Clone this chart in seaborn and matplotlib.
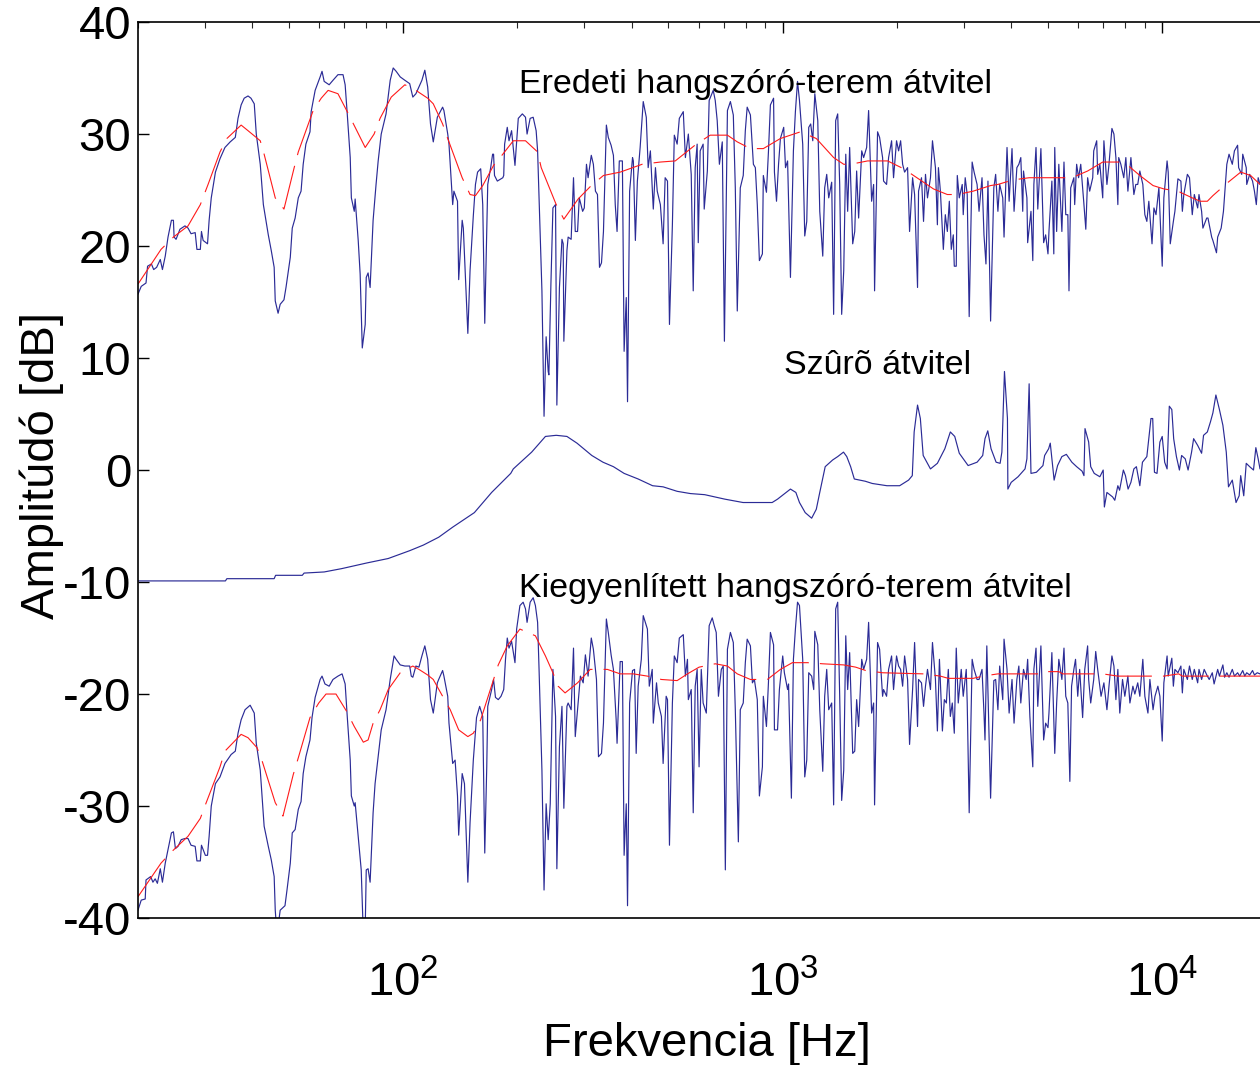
import matplotlib
matplotlib.use("Agg")
import matplotlib.pyplot as plt
import seaborn as sns
from matplotlib.ticker import LogLocator, NullFormatter, FixedLocator, FixedFormatter

# original loudspeaker-room response (blue)
upper_freq = [20.0, 20.4, 21.0, 21.2, 21.7, 22.0, 22.4, 22.9, 23.2, 23.6, 24.0, 24.5, 24.8, 24.9, 25.2, 25.8,
              26.6, 27.1, 27.6, 28.3, 28.6, 29.2, 29.4, 29.7, 30.5, 30.8, 31.2, 32.0, 32.9, 33.9, 35.0, 36.1,
              36.7, 37.4, 38.1, 39.0, 39.7, 40.5, 41.0, 42.0, 42.8, 44.1, 44.9, 45.7, 46.0, 46.8, 47.4, 48.5,
              49.1, 50.4, 51.0, 51.9, 52.9, 53.8, 54.5, 55.4, 56.8, 57.2, 58.6, 60.4, 61.1, 61.9, 63.8, 65.3,
              67.3, 69.4, 70.3, 71.2, 72.5, 73.0, 74.3, 74.7, 76.1, 77.0, 78.0, 79.4, 79.9, 80.8, 81.8, 83.3,
              84.8, 85.9, 87.5, 90.1, 92.4, 94.1, 95.8, 98.2, 101, 104, 106, 108, 110, 112, 114, 116,
              118, 120, 123, 127, 128, 131, 132, 135, 136, 139, 140, 143, 144, 148, 150, 153,
              155, 157, 160, 162, 164, 166, 167, 170, 172, 173, 174, 177, 183, 184, 185, 188,
              190, 193, 197, 201, 206, 210, 212, 216, 220, 224, 226, 228, 232, 235, 238, 241,
              242, 245, 248, 252, 254, 258, 262, 264, 265, 270, 272, 277, 281, 284, 288, 291,
              297, 300, 304, 307, 313, 317, 321, 325, 329, 333, 337, 343, 347, 353, 358, 362,
              366, 371, 378, 382, 387, 390, 395, 402, 404, 409, 414, 421, 429, 437, 442, 448,
              456, 462, 467, 476, 484, 490, 497, 503, 512, 518, 527, 534, 547, 554, 564, 574,
              581, 588, 595, 599, 606, 617, 621, 633, 640, 656, 664, 672, 681, 693, 702, 715,
              728, 741, 750, 759, 773, 787, 797, 806, 822, 837, 847, 857, 868, 884, 889, 906,
              917, 928, 946, 951, 963, 975, 986, 1006, 1017, 1030, 1048, 1067, 1080, 1094, 1107, 1129,
              1143, 1157, 1171, 1185, 1200, 1215, 1237, 1252, 1275, 1290, 1306, 1322, 1346, 1362, 1379, 1396,
              1413, 1430, 1448, 1466, 1483, 1501, 1529, 1548, 1566, 1585, 1615, 1634, 1664, 1684, 1715, 1736,
              1746, 1778, 1800, 1833, 1844, 1878, 1901, 1936, 1959, 1995, 2020, 2045, 2070, 2095, 2133, 2159,
              2199, 2226, 2266, 2280, 2321, 2350, 2378, 2407, 2451, 2481, 2526, 2556, 2572, 2603, 2650, 2682,
              2715, 2748, 2781, 2815, 2832, 2866, 2884, 2919, 2972, 2990, 3026, 3063, 3100, 3156, 3194, 3252,
              3291, 3351, 3391, 3432, 3474, 3530, 3600, 3640, 3690, 3730, 3800, 3830, 3900, 3950, 4020, 4070,
              4140, 4190, 4240, 4290, 4310, 4400, 4420, 4510, 4560, 4590, 4650, 4700, 4790, 4870, 4930, 5000,
              5030, 5120, 5180, 5210, 5270, 5340, 5440, 5510, 5570, 5640, 5680, 5740, 5850, 5880, 5950, 6020,
              6100, 6210, 6290, 6360, 6440, 6560, 6600, 6720, 6760, 6850, 6970, 7020, 7150, 7240, 7370, 7460,
              7550, 7640, 7680, 7780, 7920, 8020, 8120, 8270, 8420, 8520, 8620, 8730, 8890, 9000, 9110, 9220,
              9400, 9510, 9630, 9800, 10000, 10100, 10300, 10370, 10500, 10700, 10800, 11000, 11200, 11300, 11400, 11650,
              11800, 12000, 12150, 12400, 12500, 12700, 12800, 13100, 13200, 13500, 13600, 13900, 14000, 14300, 14500, 14600,
              14800, 15000, 15300, 15500, 15800, 15900, 16200, 16300, 16650, 16700, 17000, 17300, 17500, 17700, 17900, 18100]
upper_db = [15.7, 16.4, 16.7, 18.2, 18.4, 17.9, 18.1, 18.8, 17.9, 19.1, 20.8, 22.3, 22.3, 20.8, 20.6, 21.5,
            21.8, 21.6, 21.1, 21.2, 19.7, 19.7, 21.3, 20.5, 20.2, 22.3, 24.3, 26.6, 27.8, 28.8, 29.3, 29.7,
            31.4, 32.6, 33.2, 33.4, 33.2, 32.7, 30.0, 27.3, 23.7, 21.0, 19.6, 18.1, 15.1, 14.0, 14.8, 15.2,
            16.3, 19.0, 21.6, 22.5, 24.3, 24.9, 27.3, 29.1, 30.2, 32.0, 33.9, 35.1, 35.6, 34.7, 34.4, 34.8,
            35.3, 35.3, 34.4, 31.8, 27.9, 24.3, 23.1, 24.2, 20.5, 17.5, 10.9, 13.0, 17.2, 17.6, 16.3, 22.3,
            25.5, 27.6, 30.0, 31.8, 34.8, 35.9, 35.6, 35.1, 34.8, 34.5, 33.3, 33.6, 34.2, 34.8, 35.7, 34.2,
            30.9, 29.3, 31.5, 32.4, 32.1, 30.0, 29.1, 23.7, 24.9, 24.0, 17.0, 22.3, 21.6, 12.2, 17.8, 22.7,
            25.5, 26.6, 26.9, 23.7, 13.1, 21.4, 25.5, 27.0, 28.2, 28.2, 26.3, 25.8, 26.1, 26.3, 29.1, 30.6,
            29.4, 30.3, 27.2, 31.4, 31.8, 31.5, 30.0, 31.4, 31.5, 30.3, 28.5, 24.3, 16.0, 4.8, 11.9, 8.8,
            8.5, 16.6, 23.4, 23.7, 5.8, 16.3, 20.6, 20.2, 11.5, 19.6, 20.8, 20.6, 26.1, 21.3, 21.3, 24.3,
            23.1, 23.4, 27.3, 26.1, 28.1, 27.3, 24.9, 24.6, 18.1, 18.5, 21.3, 30.8, 29.7, 29.0, 28.1, 23.7,
            21.3, 27.6, 27.6, 10.6, 15.4, 6.1, 24.9, 27.9, 27.6, 20.5, 25.8, 28.8, 32.9, 31.5, 27.0, 28.5,
            23.3, 27.0, 24.9, 23.7, 20.2, 26.1, 25.8, 13.0, 21.9, 29.9, 29.1, 31.4, 32.0, 27.9, 30.0, 26.4,
            16.0, 27.0, 29.1, 20.3, 28.5, 29.1, 23.3, 26.7, 33.0, 33.9, 33.0, 31.2, 27.3, 29.3, 11.5, 32.1,
            32.9, 31.7, 25.2, 14.2, 25.2, 26.3, 30.3, 32.4, 31.7, 27.3, 27.0, 23.7, 18.7, 19.3, 26.3, 24.8,
            28.4, 32.6, 33.2, 26.6, 24.0, 27.3, 29.6, 30.6, 27.0, 27.6, 17.2, 28.5, 32.0, 34.7, 33.0, 29.1,
            20.9, 22.2, 30.6, 30.9, 29.4, 33.6, 31.2, 23.1, 19.1, 25.2, 26.4, 24.3, 25.7, 13.9, 31.2, 31.8,
            25.5, 13.9, 17.8, 28.2, 23.1, 28.8, 20.2, 21.3, 26.7, 22.5, 28.5, 27.9, 28.8, 32.1, 24.0, 25.5,
            16.0, 30.2, 29.7, 27.9, 25.8, 25.5, 27.9, 29.4, 26.1, 29.4, 28.5, 29.4, 27.3, 26.6, 27.0, 21.3,
            26.1, 24.6, 16.3, 24.9, 26.1, 22.2, 26.4, 24.3, 26.1, 29.4, 27.0, 21.9, 27.0, 24.9, 19.7, 22.8,
            21.3, 24.0, 19.7, 21.0, 18.2, 18.2, 26.3, 24.3, 25.5, 22.8, 26.1, 24.6, 13.7, 27.5, 26.6, 25.5,
            23.1, 26.1, 21.0, 18.4, 25.8, 13.3, 25.2, 26.4, 23.1, 25.5, 24.3, 20.8, 28.8, 24.0, 28.7, 23.1,
            27.0, 27.3, 27.9, 23.1, 26.7, 24.3, 20.3, 23.1, 18.7, 25.5, 28.8, 23.3, 28.7, 20.3, 21.0, 19.3,
            21.3, 25.8, 19.3, 28.8, 21.3, 27.3, 21.3, 27.5, 22.8, 22.8, 16.0, 25.2, 26.1, 23.7, 27.3, 26.1,
            27.3, 24.0, 21.5, 26.1, 24.9, 26.1, 28.5, 29.4, 26.4, 27.3, 24.3, 29.4, 25.5, 27.3, 30.5, 30.0,
            27.9, 23.7, 27.9, 27.3, 26.1, 27.9, 24.9, 27.9, 24.6, 25.5, 25.5, 26.7, 25.5, 22.8, 22.2, 24.0,
            20.2, 23.4, 22.8, 25.2, 18.2, 24.3, 27.6, 26.6, 20.2, 22.2, 23.1, 26.0, 25.8, 23.1, 24.6, 26.4,
            26.1, 22.8, 24.6, 23.4, 24.6, 23.1, 21.6, 22.5, 22.5, 20.8, 20.5, 19.4, 20.8, 21.6, 23.1, 24.5,
            27.3, 28.2, 27.3, 28.5, 29.0, 27.0, 26.4, 28.2, 27.0, 25.5, 26.4, 25.8, 24.9, 23.7, 26.1, 25.5]

# smoothed original response (red dashed)
upper_smooth_freq = [20.0, 23.0, 24.8, 27.1, 29.2, 30.6, 32.9, 34.3, 37.4, 39.0, 42.0, 43.0, 46.0, 48.5, 51.6, 52.9,
                     57.9, 60.8, 63.4, 67.3, 71.2, 74.7, 79.4, 83.8, 86.9, 93.0, 101, 108, 116, 120, 127, 131,
                     143, 150, 155, 162, 173, 183, 195, 210, 226, 231, 253, 265, 289, 313, 337, 373,
                     426, 476, 521, 592, 644, 715, 759, 822, 889, 986, 1114, 1226, 1362, 1448, 1510, 1674,
                     1890, 2082, 2280, 2496, 2715, 2884, 3175, 3530, 3690, 4040, 4460, 5780, 6360, 6970, 7680, 8120,
                     8730, 9460, 10100, 11000, 12000, 12600, 13150, 13600, 14800, 16100, 17100, 18100]
upper_smooth_db = [16.6, 19.7, 20.8, 21.8, 23.7, 25.5, 28.4, 29.6, 30.8, 30.3, 29.4, 28.2, 24.3, 23.3, 27.0, 28.4,
                   32.1, 33.2, 33.9, 33.6, 32.0, 30.6, 28.8, 30.0, 31.4, 33.3, 34.4, 33.9, 33.2, 32.7, 30.9, 29.6,
                   26.1, 24.6, 24.5, 25.4, 27.2, 28.2, 29.4, 29.4, 28.4, 27.0, 23.7, 22.4, 24.2, 25.4, 26.3, 26.6,
                   27.3, 27.5, 27.6, 29.1, 29.9, 29.9, 29.3, 28.7, 28.7, 29.6, 30.2, 29.6, 27.9, 27.3, 27.3, 27.6,
                   27.6, 26.9, 26.0, 25.1, 24.6, 24.6, 24.9, 25.4, 25.5, 25.9, 26.1, 26.1, 26.7, 27.5, 27.5, 27.2,
                   26.3, 25.4, 25.1, 24.9, 24.3, 24.0, 24.0, 24.5, 25.6, 26.6, 26.3, 25.5]

# equalising filter response
filter_freq = [20.0, 34.0, 34.3, 45.7, 46.1, 54.2, 54.8, 61.9, 68.9, 80.1, 91.3, 104, 113, 124, 135, 154,
               171, 192, 195, 218, 237, 253, 270, 287, 314, 336, 358, 382, 416, 454, 484, 527,
               571, 623, 704, 786, 938, 969, 1048, 1083, 1107, 1146, 1192, 1226, 1252, 1294, 1354, 1396,
               1446, 1475, 1510, 1544, 1650, 1722, 1882, 2033, 2146, 2195, 2220, 2266, 2305, 2345, 2451, 2556,
               2674, 2765, 2840, 2919, 3080, 3252, 3365, 3412, 3470, 3540, 3650, 3740, 3780, 3840, 3910, 3920,
               4000, 4170, 4350, 4400, 4460, 4510, 4660, 4850, 4900, 5020, 5070, 5190, 5300, 5440, 5590, 5780,
               5950, 6150, 6220, 6260, 6400, 6480, 6620, 6850, 6990, 7040, 7150, 7400, 7500, 7640, 7720, 7900,
               8000, 8130, 8270, 8420, 8550, 8730, 8870, 9110, 9340, 9440, 9540, 9690, 9860, 10000, 10150, 10300,
               10440, 10600, 10720, 10900, 11100, 11250, 11500, 11700, 11950, 12100, 12400, 12700, 12850, 13150, 13400, 13600,
               13850, 14150, 14450, 14750, 14950, 15300, 15650, 15950, 16100, 16400, 16650, 17000, 17400, 17650, 17900, 18100]
filter_db = [-9.9, -9.9, -9.7, -9.7, -9.4, -9.4, -9.2, -9.1, -8.8, -8.3, -7.9, -7.2, -6.7, -6.0, -5.1, -3.8,
             -2.0, -0.3, 0.1, 1.6, 3.0, 3.1, 3.0, 2.4, 1.3, 0.7, 0.3, -0.3, -0.8, -1.4, -1.5, -1.9,
             -2.1, -2.2, -2.6, -2.9, -2.9, -2.6, -1.7, -2.0, -2.9, -3.8, -4.3, -3.5, -2.0, 0.3, 0.9, 1.2,
             1.6, 1.2, 0.3, -0.8, -1.0, -1.2, -1.4, -1.4, -0.9, -0.5, 3.4, 5.8, 4.6, 1.3, 0.1, 0.6,
             1.9, 3.4, 3.0, 1.5, 0.4, 0.7, 1.3, 2.8, 3.5, 1.9, 0.7, 0.6, 1.6, 8.8, 4.6, -1.7,
             -1.1, -0.6, 0.1, 1.0, 7.7, -0.3, -0.2, 0.4, 1.3, 1.9, 2.4, -0.9, 0.4, 1.2, 1.4, 0.7,
             0.3, -0.1, -0.5, 3.7, 2.5, 0.3, -0.3, -0.6, 0.0, -3.3, -2.0, -2.4, -2.7, -1.4, -1.8, 0.0,
             -0.5, -1.7, -1.1, 0.1, 0.3, -1.4, 0.7, 1.2, 4.6, 4.6, -0.2, -0.3, 2.5, 3.0, 0.7, 0.1,
             5.7, 5.4, 2.8, 1.2, 0.0, 1.3, 1.0, 0.0, 1.6, 2.8, 2.2, 1.5, 3.1, 3.4, 4.3, 5.1,
             6.7, 5.4, 4.0, 1.6, -1.5, -0.9, -2.9, -2.3, -0.5, -2.3, 0.6, 0.3, 0.0, 2.0, 1.0, 0.1]

# equalised loudspeaker-room response (blue)
lower_freq = [20.0, 20.4, 20.9, 21.0, 21.6, 21.9, 22.2, 22.5, 22.9, 23.2, 23.6, 24.0, 24.5, 24.8, 25.1, 25.5,
              26.0, 26.6, 27.1, 27.6, 28.3, 28.6, 29.2, 29.4, 30.1, 30.5, 30.8, 31.2, 32.0, 32.9, 33.9, 35.2,
              36.1, 36.7, 37.4, 38.3, 39.5, 40.5, 41.0, 42.0, 43.0, 44.1, 44.9, 45.7, 46.0, 46.5, 47.4, 48.8,
              49.4, 50.4, 51.0, 51.9, 52.9, 53.8, 54.5, 55.4, 56.8, 57.5, 58.6, 60.4, 61.1, 62.2, 63.8, 65.3,
              67.3, 69.0, 70.3, 71.2, 72.5, 73.0, 74.3, 74.7, 76.1, 77.5, 78.5, 79.4, 79.9, 80.8, 81.8, 83.3,
              84.3, 85.9, 87.5, 90.1, 92.4, 94.6, 95.8, 98.2, 101, 104, 105, 106, 108, 110, 112, 114,
              116, 118, 120, 123, 124, 127, 128, 131, 132, 135, 137, 139, 140, 143, 145, 148,
              150, 153, 156, 159, 162, 164, 166, 167, 171, 173, 175, 178, 181, 184, 186, 188,
              190, 193, 197, 199, 203, 207, 210, 212, 216, 220, 223, 226, 228, 232, 235, 238,
              241, 244, 248, 252, 254, 258, 262, 265, 270, 272, 277, 281, 284, 288, 293, 298,
              302, 307, 313, 317, 323, 327, 333, 337, 343, 347, 353, 358, 364, 366, 373, 378,
              382, 387, 390, 395, 402, 407, 411, 416, 424, 429, 440, 445, 453, 456, 465, 470,
              479, 484, 493, 497, 503, 512, 518, 527, 534, 547, 554, 561, 564, 574, 581, 588,
              595, 602, 610, 617, 629, 640, 652, 660, 668, 677, 689, 697, 706, 715, 728, 741,
              750, 764, 773, 787, 797, 806, 822, 832, 842, 857, 868, 884, 889, 906, 917, 928,
              946, 951, 969, 980, 1000, 1010, 1030, 1036, 1054, 1067, 1080, 1094, 1107, 1129, 1143, 1157,
              1171, 1192, 1207, 1215, 1237, 1252, 1275, 1290, 1306, 1322, 1346, 1362, 1379, 1396, 1413, 1430,
              1448, 1466, 1483, 1501, 1529, 1548, 1566, 1585, 1615, 1634, 1664, 1684, 1715, 1736, 1746, 1778,
              1800, 1833, 1844, 1878, 1901, 1936, 1959, 1995, 2020, 2045, 2070, 2095, 2133, 2159, 2199, 2226,
              2266, 2280, 2321, 2350, 2378, 2407, 2451, 2481, 2526, 2556, 2588, 2635, 2666, 2699, 2731, 2765,
              2798, 2832, 2866, 2901, 2954, 2990, 3045, 3063, 3100, 3156, 3194, 3252, 3291, 3351, 3391, 3412,
              3450, 3530, 3600, 3640, 3690, 3730, 3800, 3830, 3900, 3950, 4020, 4070, 4140, 4190, 4240, 4310,
              4380, 4420, 4480, 4560, 4590, 4650, 4700, 4790, 4870, 4930, 5000, 5030, 5120, 5180, 5210, 5270,
              5340, 5440, 5510, 5570, 5640, 5710, 5770, 5850, 5910, 5990, 6060, 6170, 6250, 6360, 6400, 6480,
              6600, 6680, 6760, 6900, 7020, 7150, 7240, 7370, 7460, 7550, 7640, 7730, 7860, 7970, 8120, 8220,
              8370, 8470, 8620, 8730, 8890, 9000, 9170, 9280, 9460, 9570, 9740, 9860, 10000, 10100, 10300, 10370,
              10600, 10700, 10800, 11000, 11200, 11300, 11400, 11650, 11800, 12000, 12150, 12400, 12500, 12700, 12900, 13150,
              13300, 13550, 13700, 14000, 14150, 14450, 14600, 14800, 15000, 15300, 15500, 15800, 16000, 16300, 16500, 16700,
              17000, 17300, 17500, 17800, 18100]
lower_db = [-39.3, -38.4, -38.3, -36.6, -36.3, -36.8, -36.5, -36.9, -35.6, -36.8, -35.1, -33.9, -32.4, -32.3, -33.8, -33.6,
            -33.0, -32.9, -32.9, -33.5, -33.6, -34.9, -34.9, -33.5, -34.4, -34.4, -32.7, -30.0, -28.0, -27.4, -26.2, -25.4,
            -25.1, -23.5, -22.3, -21.4, -21.0, -21.7, -24.4, -26.8, -31.8, -33.6, -34.8, -36.3, -39.3, -41.5, -39.3, -38.9,
            -37.5, -35.1, -32.4, -32.1, -30.3, -29.6, -27.1, -25.6, -24.1, -22.1, -20.3, -18.7, -18.4, -19.1, -19.3, -18.7,
            -18.4, -18.2, -19.1, -22.0, -25.9, -29.1, -30.0, -29.7, -32.7, -35.7, -41.5, -41.0, -35.7, -35.6, -36.8, -30.6,
            -28.0, -25.6, -23.2, -21.4, -18.7, -16.6, -16.9, -17.4, -17.5, -17.5, -18.4, -18.5, -17.5, -17.6, -16.6, -15.7,
            -16.9, -20.5, -21.7, -19.0, -18.7, -17.9, -18.4, -20.2, -22.6, -26.2, -25.9, -29.1, -32.6, -27.1, -28.0, -36.8,
            -31.5, -25.9, -22.1, -21.1, -22.0, -34.2, -26.5, -21.1, -19.6, -18.7, -20.3, -20.5, -20.2, -19.6, -16.9, -15.0,
            -15.9, -15.3, -17.2, -14.2, -12.1, -11.8, -12.4, -13.6, -11.8, -11.4, -12.1, -13.6, -17.8, -26.8, -37.5, -29.8,
            -33.0, -29.8, -17.8, -22.0, -35.6, -24.7, -21.1, -30.2, -21.1, -20.8, -21.4, -15.9, -23.8, -21.4, -18.4, -19.0,
            -16.5, -18.4, -15.0, -16.0, -18.7, -25.6, -25.3, -22.6, -13.3, -14.5, -16.5, -17.8, -22.3, -24.4, -17.1, -17.1,
            -34.4, -29.8, -38.9, -20.8, -17.9, -17.8, -25.3, -19.3, -16.9, -13.0, -14.2, -19.3, -17.8, -22.6, -19.0, -20.8,
            -22.0, -26.2, -20.2, -20.5, -33.5, -20.8, -16.6, -17.2, -15.0, -14.7, -18.4, -16.9, -20.5, -19.6, -30.6, -19.3,
            -17.8, -26.5, -17.8, -20.8, -21.7, -13.9, -13.2, -13.9, -14.5, -20.2, -17.8, -17.5, -35.7, -16.0, -14.5, -15.4,
            -21.4, -33.2, -21.4, -20.8, -17.2, -15.1, -15.7, -19.0, -18.7, -20.5, -29.1, -26.5, -20.2, -22.9, -19.0, -14.5,
            -15.6, -23.2, -23.2, -19.6, -16.6, -18.1, -19.6, -19.1, -29.3, -16.9, -14.2, -11.8, -12.1, -16.9, -27.4, -25.9,
            -18.1, -18.4, -19.6, -14.4, -15.6, -21.4, -26.9, -20.2, -17.8, -21.4, -20.8, -29.9, -12.4, -11.8, -20.2, -29.5,
            -26.8, -14.8, -19.6, -16.3, -25.3, -25.1, -20.5, -22.9, -16.9, -17.8, -16.9, -13.6, -21.7, -20.8, -29.9, -15.4,
            -16.0, -20.2, -19.6, -20.2, -17.8, -16.6, -19.6, -16.6, -17.5, -17.8, -19.3, -16.6, -18.7, -24.5, -19.6, -15.4,
            -22.9, -18.7, -19.0, -21.1, -19.3, -17.8, -19.6, -15.4, -18.7, -23.3, -16.9, -23.3, -20.5, -20.8, -17.8, -22.0,
            -20.8, -23.5, -15.9, -20.8, -17.8, -20.2, -17.8, -20.8, -30.6, -16.9, -17.8, -18.7, -18.7, -17.8, -21.7, -24.1,
            -15.7, -29.3, -18.8, -18.7, -21.4, -17.5, -20.5, -15.1, -17.8, -21.7, -18.7, -22.6, -18.7, -17.5, -20.8, -17.8,
            -18.7, -16.9, -22.0, -26.5, -17.8, -15.9, -21.1, -15.7, -24.1, -22.6, -23.0, -21.7, -16.3, -22.3, -25.3, -20.8,
            -16.9, -18.7, -15.9, -20.2, -20.8, -27.8, -19.3, -17.8, -16.9, -20.2, -17.8, -22.1, -17.8, -15.7, -18.7, -20.8,
            -18.7, -16.2, -17.8, -20.2, -19.0, -21.4, -19.3, -16.6, -17.5, -20.5, -17.8, -21.7, -18.7, -20.2, -18.4, -20.8,
            -19.3, -20.0, -19.0, -20.2, -16.9, -20.2, -21.7, -18.7, -21.4, -20.2, -19.3, -20.2, -24.2, -19.0, -16.6, -18.4,
            -16.8, -19.3, -17.8, -18.1, -17.5, -19.9, -17.8, -18.7, -17.5, -18.7, -17.8, -19.0, -17.8, -18.7, -17.8, -18.4,
            -18.7, -18.1, -19.1, -17.8, -18.4, -17.4, -18.5, -18.1, -18.5, -17.8, -18.4, -18.1, -18.4, -17.9, -18.4, -18.1,
            -18.3, -17.9, -18.3, -18.1, -18.2]

# smoothed equalised response (red dashed)
lower_smooth_freq = [20.0, 23.0, 24.5, 27.1, 29.2, 30.1, 32.9, 33.9, 37.4, 39.0, 41.2, 42.5, 46.0, 48.2, 51.3, 52.9,
                     56.8, 59.9, 62.6, 66.5, 70.8, 74.3, 78.5, 80.8, 83.3, 86.9, 91.3, 98.2, 106, 110, 116, 120,
                     127, 133, 140, 148, 153, 160, 173, 178, 188, 203, 223, 237, 248, 256, 267, 288,
                     311, 345, 373, 404, 440, 479, 527, 561, 602, 664, 715, 759, 822, 911, 986, 1060,
                     1164, 1275, 1448, 1557, 1654, 1833, 2350, 2603, 2731, 3175, 3370, 3690, 4790, 4850, 5340, 5470,
                     6970, 7640, 10100, 11050, 11300, 18100]
lower_smooth_db = [-38.1, -35.1, -34.1, -32.7, -31.1, -29.9, -26.5, -25.1, -23.6, -23.9, -24.8, -26.0, -29.7, -30.9, -27.2, -25.7,
                   -22.1, -20.8, -20.0, -20.0, -21.5, -22.9, -24.3, -24.1, -22.6, -21.4, -19.6, -18.1, -17.5, -17.8, -18.3, -18.7,
                   -20.2, -21.4, -23.2, -23.8, -23.5, -22.3, -18.7, -17.4, -15.7, -14.2, -14.8, -16.6, -18.1, -19.3, -19.9, -19.0,
                   -17.8, -17.8, -18.2, -18.2, -18.4, -18.7, -18.8, -18.2, -17.6, -17.3, -17.5, -18.2, -18.7, -18.7, -17.8, -17.2,
                   -17.2, -17.3, -17.4, -17.6, -17.9, -18.1, -18.2, -18.4, -18.6, -18.6, -18.4, -18.2, -18.2, -18.0, -18.0, -18.2,
                   -18.2, -18.4, -18.4, -18.2, -18.4, -18.4]

y_ticks = [40, 30, 20, 10, 0, -10, -20, -30, -40]
y_tick_labels = ['40', '30', '20', '10', '0', '-10', '-20', '-30', '-40']
x_ticks = [100, 1000, 10000]
x_tick_labels = [r'$\mathregular{10^{2}}$', r'$\mathregular{10^{3}}$', r'$\mathregular{10^{4}}$']

sns.set_theme(style='white')
plt.rcParams['font.family'] = ['Liberation Sans', 'DejaVu Sans']
plt.rcParams['mathtext.fontset'] = 'custom'
plt.rcParams['mathtext.rm'] = 'Liberation Sans'
plt.rcParams['text.color'] = 'black'
plt.rcParams['axes.labelcolor'] = 'black'

blue = '#2b2b96'
red = '#ff1a1a'

fig = plt.figure(figsize=(12.6, 10.65), dpi=100)
ax = fig.add_axes([0.1095, 0.138, 0.8905, 0.8413])

for fr, db in [(upper_freq, upper_db), (filter_freq, filter_db), (lower_freq, lower_db)]:
    sns.lineplot(x=fr, y=db, ax=ax, color=blue, linewidth=0.85, estimator=None, sort=False)

for fr, db in [(upper_smooth_freq, upper_smooth_db), (lower_smooth_freq, lower_smooth_db)]:
    sns.lineplot(x=fr, y=db, ax=ax, color=red, linewidth=0.8, estimator=None, sort=False)
    ax.lines[-1].set_dashes((42, 10))

ax.set_xscale('log')
ax.set_xlim(20, 18100)
ax.set_ylim(-40, 40)

ax.xaxis.set_major_locator(FixedLocator(x_ticks))
ax.xaxis.set_major_formatter(FixedFormatter(x_tick_labels))
ax.xaxis.set_minor_locator(LogLocator(base=10, subs=range(2, 10), numticks=20))
ax.xaxis.set_minor_formatter(NullFormatter())
ax.set_yticks(y_ticks)
ax.set_yticklabels(y_tick_labels)

ax.tick_params(axis='both', which='major', direction='in', length=8, width=1, labelsize=34,
               colors='black', labelcolor='black')
ax.tick_params(axis='x', which='minor', direction='in', length=4, width=0.8, top=True)
ax.tick_params(axis='x', which='major', top=True, pad=31)
ax.tick_params(axis='y', which='major', pad=5, left=True, right=False)

for side in ['left', 'bottom', 'top']:
    ax.spines[side].set_color('black')
    ax.spines[side].set_linewidth(1.2)
ax.spines['right'].set_visible(False)

ax.set_xlabel('Frekvencia [Hz]', fontsize=34)
ax.set_ylabel('Amplitúdó [dB]', fontsize=34)
ax.xaxis.set_label_coords(0.507, -0.116)
ax.yaxis.set_label_coords(-0.066, 0.505)

ax.text(202, 33.7, 'Eredeti hangszóró-terem átvitel', fontsize=24.5, va='baseline', ha='left')
ax.text(1006, 8.55, 'Szûrõ átvitel', fontsize=24.5, va='baseline', ha='left')
ax.text(202, -11.3, 'Kiegyenlített hangszóró-terem átvitel', fontsize=24.5, va='baseline', ha='left')

plt.savefig('out.png', dpi=100, facecolor='w')
